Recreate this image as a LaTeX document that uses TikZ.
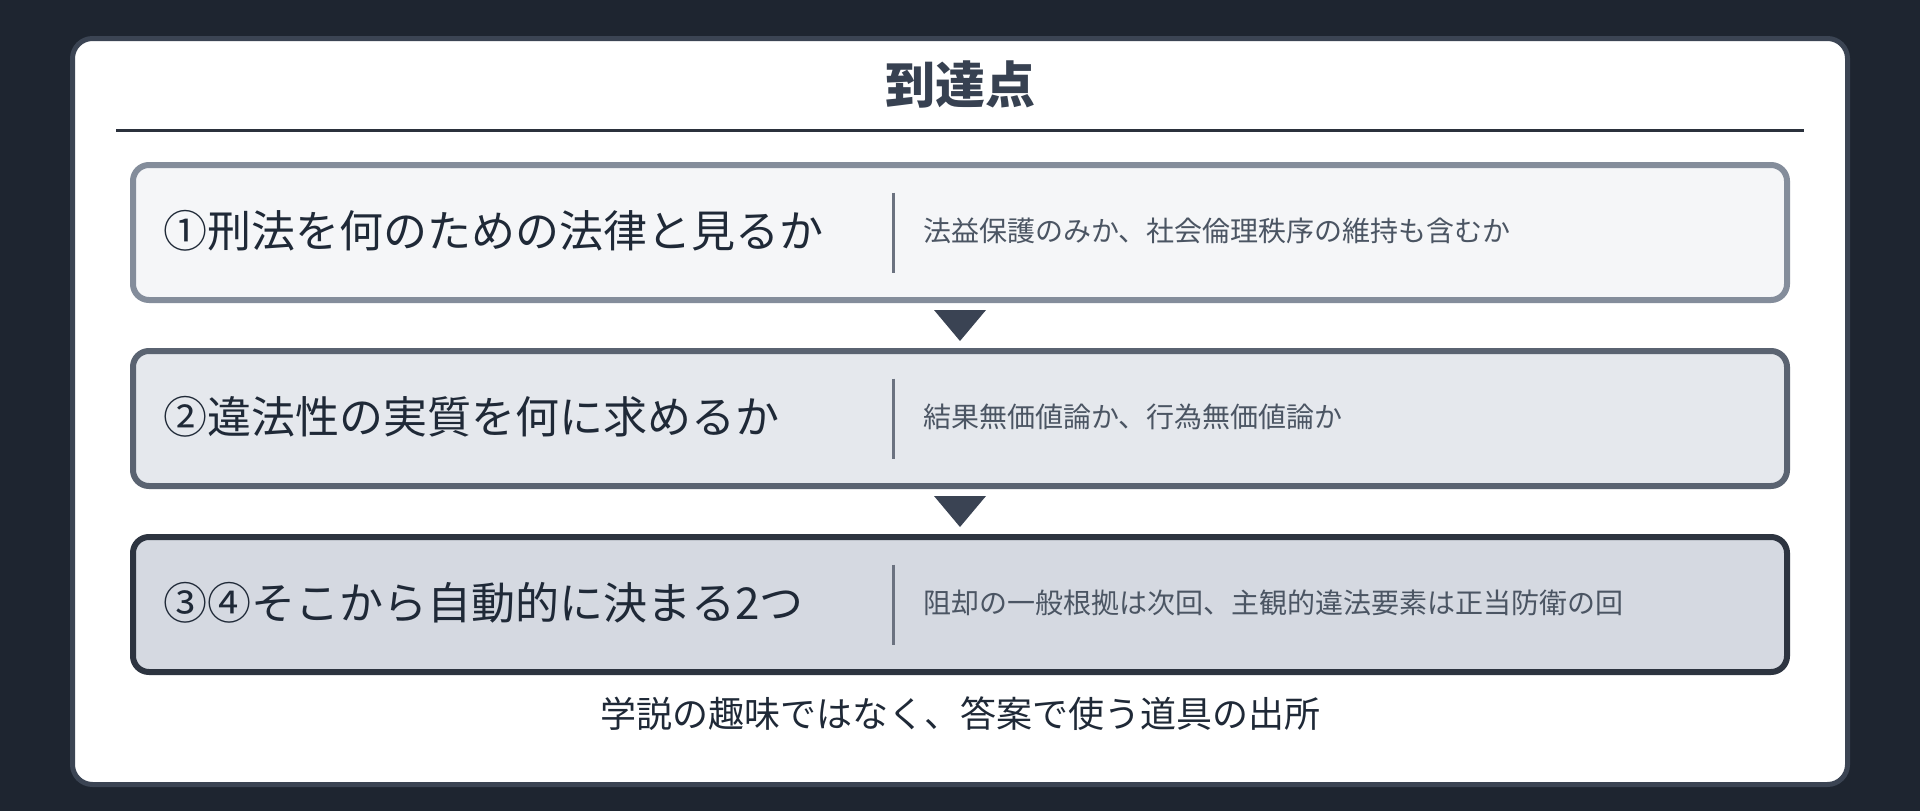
\documentclass[tikz,border=0pt]{standalone}
\usepackage{fontspec}
\setmainfont{Noto Sans CJK JP}
\usetikzlibrary{calc}
\definecolor{bgc}{HTML}{1E2530}
\definecolor{cardline}{HTML}{3B4453}
\definecolor{titlec}{HTML}{374151}
\definecolor{rulec}{HTML}{2B313C}
\definecolor{fillA}{HTML}{F5F6F8}
\definecolor{lineA}{HTML}{848D9B}
\definecolor{fillB}{HTML}{E5E8ED}
\definecolor{lineB}{HTML}{5A6371}
\definecolor{fillC}{HTML}{D5D9E1}
\definecolor{lineC}{HTML}{2D3440}
\definecolor{maintext}{HTML}{1F2937}
\definecolor{subtext}{HTML}{4B5563}
\definecolor{divc}{HTML}{6B7280}
\definecolor{arrowc}{HTML}{3A4353}
\begin{document}
\begin{tikzpicture}[x=1pt,y=-1pt,
  stepbox/.style={rounded corners=16pt, line width=6pt, minimum width=1654pt, minimum height=135pt, inner sep=0pt},
  lefttext/.style={anchor=west, inner sep=0pt, text=maintext, font=\fontsize{44}{50}\selectfont},
  righttext/.style={anchor=west, inner sep=0pt, text=subtext, font=\fontsize{28}{34}\selectfont},
  divline/.style={draw=divc, line width=3pt},
  tri/.style={fill=arrowc}
]
\useasboundingbox (0,0) rectangle (1920,811);
\fill[bgc] (0,0) rectangle (1920,811);
\draw[cardline, fill=white, line width=5pt, rounded corners=20pt] (72.5,38.5) rectangle (1847.5,784.5);

\node[inner sep=0pt, text=titlec, font=\fontsize{50}{56}\selectfont\bfseries] (title) at (960,84.5) {到達点};
\coordinate (rl) at (116,130.5);
\coordinate (rr) at (1804,130.5);
\draw[rulec, line width=3pt] (rl) -- (rr);

\node[stepbox, draw=lineA, fill=fillA] (b1) at (960,232.5) {};
\node[stepbox, draw=lineB, fill=fillB] (b2) at (960,418.5) {};
\node[stepbox, draw=lineC, fill=fillC] (b3) at (960,604.5) {};

\foreach \b/\l/\r in {b1/{①刑法を何のための法律と見るか}/{法益保護のみか、社会倫理秩序の維持も含むか},
                      b2/{②違法性の実質を何に求めるか}/{結果無価値論か、行為無価値論か},
                      b3/{③④そこから自動的に決まる2つ}/{阻却の一般根拠は次回、主観的違法要素は正当防衛の回}}{
  \node[lefttext] (\b l) at ($(\b.center)+(-797,-2)$) {\l};
  \node[righttext] (\b r) at ($(\b.center)+(-37,-2)$) {\r};
  \coordinate (\b dt) at ($(\b.center)+(-67,-40)$);
  \coordinate (\b db) at ($(\b.center)+(-67,40)$);
  \draw[divline] (\b dt) -- (\b db);
}

\foreach \a/\c in {b1/b2,b2/b3}{
  \coordinate (m\a) at ($(\a.south)!0.5!(\c.north)$);
  \fill[tri] ($(m\a)+(-26,-15.5)$) -- ($(m\a)+(26,-15.5)$) -- ($(m\a)+(0,15.5)$) -- cycle;
}

\node[inner sep=0pt, text=maintext, font=\fontsize{36}{42}\selectfont] (foot) at (960,714) {学説の趣味ではなく、答案で使う道具の出所};
\end{tikzpicture}
\end{document}
